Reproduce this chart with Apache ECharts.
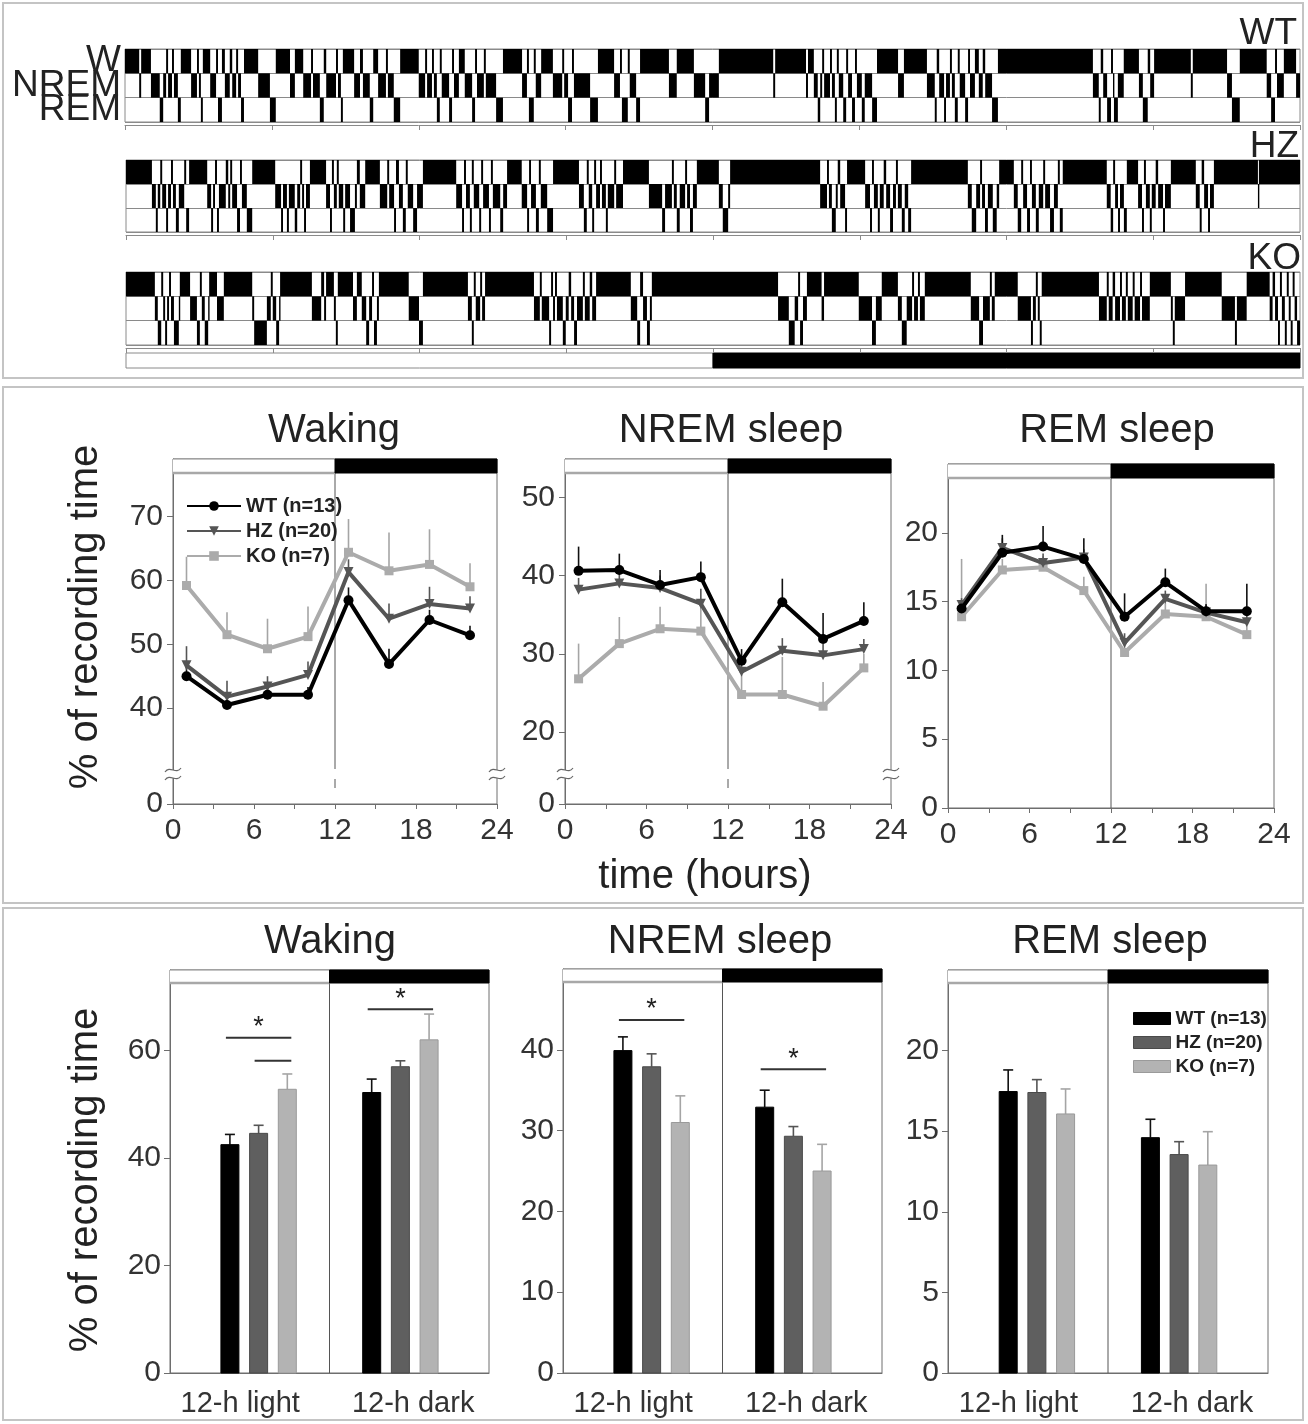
<!DOCTYPE html>
<html><head><meta charset="utf-8">
<script src="https://cdn.jsdelivr.net/npm/echarts@6.0.0/dist/echarts.min.js"></script>
<style>
html,body{margin:0;padding:0;background:#fff;}
.c{position:absolute;left:0;top:0;width:1308px;height:1424px;}
</style></head><body>
<div id="ca" class="c"></div><div id="cb" class="c"></div><div id="cc" class="c"></div>
<script>
// ---------------- DATA ----------------
const genotypes = ['WT (n=13)', 'HZ (n=20)', 'KO (n=7)'];
const stateRows = ['REM', 'NREM', 'W'];
// hypnograms: [hour of state onset, state]  (W wake, N NREM, R REM)
const hypnoWT = [[0,'W'],[0.29,'N'],[0.33,'W'],[0.53,'N'],[0.71,'R'],[0.78,'N'],[0.84,'W'],[0.88,'N'],[0.96,'W'],[1.00,'N'],[1.08,'R'],[1.14,'W'],[1.35,'N'],[1.47,'W'],[1.51,'N'],[1.55,'R'],[1.59,'W'],[1.74,'N'],[1.86,'W'],[1.90,'R'],[1.98,'W'],[2.04,'N'],[2.14,'W'],[2.19,'N'],[2.27,'W'],[2.31,'N'],[2.37,'R'],[2.43,'W'],[2.72,'N'],[2.96,'R'],[3.08,'W'],[3.37,'N'],[3.47,'W'],[3.64,'N'],[3.80,'W'],[3.84,'N'],[3.98,'R'],[4.06,'W'],[4.11,'N'],[4.31,'W'],[4.35,'N'],[4.41,'R'],[4.45,'W'],[4.68,'N'],[4.80,'W'],[4.86,'N'],[5.00,'R'],[5.07,'W'],[5.17,'N'],[5.33,'W'],[5.37,'N'],[5.49,'R'],[5.62,'W'],[6.00,'N'],[6.13,'W'],[6.17,'N'],[6.27,'W'],[6.31,'N'],[6.37,'R'],[6.43,'W'],[6.47,'N'],[6.62,'R'],[6.68,'W'],[6.72,'N'],[6.82,'W'],[6.94,'N'],[7.09,'R'],[7.15,'W'],[7.19,'N'],[7.33,'W'],[7.37,'N'],[7.58,'R'],[7.72,'W'],[8.11,'N'],[8.21,'W'],[8.25,'R'],[8.35,'W'],[8.39,'N'],[8.50,'W'],[8.74,'N'],[8.93,'W'],[8.97,'N'],[9.05,'R'],[9.13,'W'],[9.17,'N'],[9.50,'R'],[9.66,'W'],[9.99,'N'],[10.11,'W'],[10.15,'R'],[10.27,'W'],[10.31,'N'],[10.44,'R'],[10.52,'W'],[11.11,'N'],[11.27,'W'],[11.62,'N'],[11.85,'R'],[11.93,'N'],[12.13,'W'],[13.24,'N'],[13.28,'W'],[13.91,'N'],[13.95,'W'],[14.07,'N'],[14.15,'R'],[14.20,'N'],[14.24,'W'],[14.28,'N'],[14.40,'W'],[14.44,'N'],[14.50,'R'],[14.54,'W'],[14.58,'N'],[14.67,'R'],[14.73,'W'],[14.77,'N'],[14.85,'R'],[14.91,'W'],[14.95,'N'],[15.05,'R'],[15.11,'N'],[15.26,'R'],[15.36,'W'],[15.79,'N'],[15.91,'W'],[16.38,'N'],[16.54,'R'],[16.58,'W'],[16.63,'N'],[16.73,'R'],[16.77,'N'],[16.85,'W'],[16.89,'N'],[16.95,'R'],[17.01,'W'],[17.05,'N'],[17.16,'R'],[17.22,'W'],[17.26,'N'],[17.36,'W'],[17.44,'N'],[17.52,'W'],[17.57,'N'],[17.71,'R'],[17.83,'W'],[19.77,'N'],[19.89,'R'],[19.93,'W'],[19.98,'N'],[20.06,'R'],[20.14,'W'],[20.18,'N'],[20.20,'R'],[20.28,'N'],[20.40,'W'],[20.71,'N'],[20.79,'R'],[20.89,'W'],[20.94,'N'],[21.02,'W'],[21.77,'N'],[21.81,'W'],[22.51,'N'],[22.61,'R'],[22.77,'W'],[23.32,'N'],[23.41,'R'],[23.49,'W'],[23.53,'N'],[23.67,'W'],[23.92,'N']];
const hypnoHZ = [[0,'W'],[0.53,'N'],[0.61,'R'],[0.65,'N'],[0.70,'W'],[0.74,'N'],[0.82,'R'],[0.86,'N'],[0.92,'W'],[0.96,'N'],[1.02,'R'],[1.08,'N'],[1.19,'W'],[1.23,'R'],[1.29,'W'],[1.66,'N'],[1.74,'R'],[1.78,'N'],[1.82,'W'],[1.86,'R'],[1.90,'N'],[2.04,'W'],[2.09,'N'],[2.13,'W'],[2.17,'N'],[2.27,'R'],[2.33,'W'],[2.37,'N'],[2.47,'R'],[2.58,'W'],[3.05,'N'],[3.17,'R'],[3.21,'N'],[3.29,'R'],[3.33,'N'],[3.45,'R'],[3.50,'N'],[3.56,'W'],[3.60,'N'],[3.64,'R'],[3.68,'N'],[3.76,'W'],[4.09,'N'],[4.17,'R'],[4.21,'W'],[4.25,'N'],[4.31,'W'],[4.35,'N'],[4.44,'R'],[4.48,'N'],[4.58,'R'],[4.68,'N'],[4.72,'W'],[4.78,'N'],[4.89,'W'],[5.19,'N'],[5.34,'W'],[5.38,'N'],[5.48,'R'],[5.52,'W'],[5.58,'N'],[5.66,'R'],[5.72,'W'],[5.76,'N'],[5.87,'R'],[5.95,'N'],[6.07,'W'],[6.75,'N'],[6.87,'R'],[6.91,'W'],[6.95,'N'],[7.03,'R'],[7.07,'W'],[7.11,'N'],[7.22,'R'],[7.26,'W'],[7.30,'N'],[7.42,'R'],[7.46,'W'],[7.50,'N'],[7.65,'R'],[7.71,'N'],[7.79,'W'],[8.09,'N'],[8.20,'R'],[8.24,'W'],[8.28,'N'],[8.38,'R'],[8.44,'W'],[8.48,'N'],[8.61,'R'],[8.73,'W'],[9.26,'N'],[9.36,'R'],[9.42,'W'],[9.46,'N'],[9.53,'R'],[9.57,'W'],[9.61,'N'],[9.69,'W'],[9.73,'N'],[9.81,'R'],[9.85,'N'],[9.98,'W'],[10.02,'N'],[10.16,'W'],[10.69,'N'],[10.96,'R'],[11.02,'N'],[11.16,'W'],[11.20,'N'],[11.26,'R'],[11.32,'N'],[11.43,'W'],[11.47,'N'],[11.53,'R'],[11.59,'N'],[11.67,'W'],[12.12,'N'],[12.20,'R'],[12.31,'N'],[12.35,'W'],[14.19,'N'],[14.33,'W'],[14.37,'N'],[14.43,'R'],[14.51,'N'],[14.55,'W'],[14.60,'N'],[14.70,'R'],[14.74,'W'],[15.11,'N'],[15.21,'R'],[15.25,'W'],[15.29,'N'],[15.37,'R'],[15.41,'N'],[15.49,'W'],[15.54,'N'],[15.62,'R'],[15.68,'N'],[15.74,'W'],[15.78,'N'],[15.86,'R'],[15.92,'N'],[15.99,'R'],[16.05,'W'],[17.21,'N'],[17.29,'R'],[17.38,'N'],[17.46,'W'],[17.50,'N'],[17.56,'R'],[17.62,'N'],[17.72,'R'],[17.80,'N'],[17.85,'W'],[18.15,'N'],[18.23,'R'],[18.30,'W'],[18.34,'N'],[18.42,'R'],[18.48,'W'],[18.52,'N'],[18.60,'R'],[18.66,'N'],[18.75,'W'],[18.79,'N'],[18.89,'R'],[18.97,'N'],[19.05,'W'],[19.09,'R'],[19.15,'W'],[20.05,'N'],[20.13,'R'],[20.18,'W'],[20.22,'N'],[20.28,'R'],[20.32,'N'],[20.40,'R'],[20.46,'W'],[20.69,'N'],[20.77,'R'],[20.81,'W'],[20.85,'N'],[20.93,'R'],[20.97,'N'],[21.05,'W'],[21.10,'N'],[21.20,'R'],[21.24,'N'],[21.36,'W'],[21.87,'N'],[21.95,'R'],[21.99,'W'],[22.04,'N'],[22.12,'R'],[22.16,'N'],[22.24,'W'],[23.14,'N'],[23.16,'W']];
const hypnoKO = [[0,'W'],[0.59,'N'],[0.65,'R'],[0.72,'W'],[0.76,'N'],[0.80,'R'],[0.84,'N'],[0.88,'W'],[0.92,'N'],[0.98,'R'],[1.08,'N'],[1.10,'W'],[1.31,'N'],[1.45,'R'],[1.51,'W'],[1.55,'N'],[1.61,'R'],[1.68,'N'],[1.70,'W'],[1.86,'N'],[2.00,'W'],[2.58,'N'],[2.62,'R'],[2.88,'N'],[2.96,'W'],[3.00,'N'],[3.07,'R'],[3.13,'N'],[3.15,'W'],[3.80,'N'],[3.99,'W'],[4.05,'N'],[4.09,'W'],[4.25,'N'],[4.29,'R'],[4.33,'W'],[4.64,'N'],[4.72,'W'],[4.82,'N'],[4.91,'R'],[4.97,'N'],[5.03,'W'],[5.07,'R'],[5.13,'N'],[5.17,'W'],[5.78,'N'],[5.99,'R'],[6.07,'W'],[6.99,'N'],[7.07,'R'],[7.11,'W'],[7.15,'N'],[7.24,'W'],[7.28,'N'],[7.34,'W'],[8.34,'N'],[8.46,'W'],[8.50,'N'],[8.65,'R'],[8.69,'W'],[8.73,'N'],[8.77,'W'],[8.81,'N'],[8.93,'R'],[8.99,'N'],[9.05,'W'],[9.10,'N'],[9.16,'R'],[9.22,'N'],[9.34,'W'],[9.38,'N'],[9.48,'W'],[9.53,'N'],[9.61,'W'],[10.32,'N'],[10.45,'R'],[10.51,'W'],[10.57,'N'],[10.65,'R'],[10.71,'N'],[10.75,'W'],[13.33,'N'],[13.55,'R'],[13.67,'N'],[13.74,'W'],[13.78,'R'],[13.84,'N'],[13.92,'W'],[14.22,'N'],[14.27,'W'],[14.98,'N'],[15.25,'R'],[15.33,'N'],[15.45,'W'],[15.78,'N'],[15.86,'R'],[15.96,'N'],[16.07,'W'],[16.11,'N'],[16.19,'W'],[16.23,'N'],[16.33,'W'],[17.27,'N'],[17.44,'R'],[17.52,'N'],[17.66,'W'],[17.70,'N'],[17.76,'W'],[18.23,'N'],[18.50,'R'],[18.54,'N'],[18.60,'W'],[18.64,'N'],[18.68,'R'],[18.72,'W'],[19.89,'N'],[20.05,'W'],[20.09,'N'],[20.17,'W'],[20.22,'N'],[20.32,'W'],[20.36,'N'],[20.44,'W'],[20.48,'N'],[20.58,'W'],[20.62,'N'],[20.73,'W'],[20.77,'N'],[20.93,'W'],[21.36,'N'],[21.40,'R'],[21.44,'N'],[21.65,'W'],[22.40,'N'],[22.67,'R'],[22.71,'N'],[22.91,'W'],[23.38,'N'],[23.44,'W'],[23.49,'N'],[23.55,'R'],[23.59,'W'],[23.63,'N'],[23.69,'R'],[23.73,'W'],[23.77,'N'],[23.81,'R'],[23.85,'W'],[23.89,'N'],[23.94,'R']];

// 3-h time course (bin centres, hours)
const hourBins = [1, 4, 7, 10, 13, 16, 19, 22];
const wakeWT = [45.0, 40.5, 42.1, 42.1, 56.9, 46.9, 53.8, 51.4];
const wakeHZ = [46.7, 41.8, 43.4, 45.2, 61.3, 54.0, 56.3, 55.6];
const wakeKO = [59.2, 51.5, 49.3, 51.2, 64.4, 61.5, 62.5, 59.0];
const wakeWTsem = [2.0, 1.2, 1.2, 1.2, 2.0, 2.4, 1.6, 1.5];
const wakeHZsem = [3.0, 2.5, 1.6, 2.1, 2.0, 2.4, 2.7, 1.9];
const wakeKOsem = [4.5, 3.5, 4.7, 4.7, 5.2, 6.0, 5.5, 3.7];
const nremWT = [40.6, 40.7, 38.8, 39.8, 29.1, 36.6, 31.9, 34.2];
const nremHZ = [38.2, 39.0, 38.4, 36.4, 27.7, 30.4, 29.8, 30.6];
const nremKO = [26.8, 31.3, 33.2, 32.9, 24.8, 24.8, 23.3, 28.2];
const nremWTsem = [3.1, 2.1, 1.9, 2.0, 1.5, 3.0, 3.3, 2.4];
const nremHZsem = [1.5, 1.2, 1.6, 1.9, 1.2, 1.6, 1.5, 1.3];
const nremKOsem = [4.5, 3.4, 2.8, 3.0, 2.5, 4.8, 3.1, 1.8];
const remWT = [14.5, 18.55, 19.0, 18.1, 13.9, 16.4, 14.3, 14.3];
const remHZ = [14.75, 18.9, 17.8, 18.2, 12.0, 15.2, 14.2, 13.5];
const remKO = [13.9, 17.3, 17.5, 15.8, 11.3, 14.1, 13.9, 12.6];
const remWTsem = [0.5, 1.3, 1.5, 1.5, 1.7, 1.0, 0.5, 2.0];
const remHZsem = [0.5, 0.7, 0.7, 0.6, 0.7, 0.6, 0.6, 0.5];
const remKOsem = [4.2, 0.8, 0.8, 1.0, 0.9, 0.8, 2.4, 0.6];

// 12-h totals  [light, dark]
const periods = ['12-h light', '12-h dark'];
const barWakeMean = [[42.5, 52.2], [44.6, 57.0], [52.8, 62.0]];
const barWakeSem  = [[1.9, 2.5], [1.5, 1.1], [2.85, 4.8]];
const barNremMean = [[39.9, 32.9], [37.9, 29.3], [31.0, 25.0]];
const barNremSem  = [[1.7, 2.1], [1.6, 1.2], [3.3, 3.3]];
const barRemMean  = [[17.46, 14.6], [17.4, 13.55], [16.07, 12.9]];
const barRemSem   = [[1.34, 1.14], [0.8, 0.8], [1.55, 2.07]];
// significance: [period (1 light, 2 dark), from group, to group, height, star]
const sigWake = [[1, 0, 2, 62.4, 1], [1, 1, 2, 58.1, 0], [2, 0, 2, 67.7, 1]];
const sigNrem = [[1, 0, 2, 43.7, 1], [2, 0, 2, 37.6, 1]];
const sigRem  = [];

// tick labels
const lineTicksWake = [0, 40, 50, 60, 70];
const lineTicksNrem = [0, 20, 30, 40, 50];
const lineTicksRem  = [0, 5, 10, 15, 20];
const hourTicks = [0, 6, 12, 18, 24];
const barTicksWake = [0, 20, 40, 60];
const barTicksNrem = [0, 10, 20, 30, 40];
const barTicksRem  = [0, 5, 10, 15, 20];

// ---------------- STYLE ----------------
const FONT = "'Liberation Sans', Arial, Helvetica, sans-serif";
const TXT = '#222';
const AX = '#6e6e6e';
const lineColors = ['#000000', '#555555', '#ababab'];
const barFill = ['#000000', '#5f5f5f', '#b3b3b3'];
const barStroke = ['#000000', '#4a4a4a', '#9a9a9a'];
const errColors = ['#111111', '#555555', '#a5a5a5'];
const BAR_W = 18, BAR_STEP = 28.7;

function toBouts(seq) {
  const out = [];
  const rowOf = { R: 0, N: 1, W: 2 };
  for (let i = 0; i < seq.length; i++) {
    const end = i + 1 < seq.length ? seq[i + 1][0] : 24;
    out.push([seq[i][0], end, rowOf[seq[i][1]]]);
  }
  return out;
}
function renderBout(params, api) {
  const s = api.value(0), e = api.value(1), r = api.value(2);
  const p0 = api.coord([s, r]), p1 = api.coord([e, r]);
  const h = api.size([0, 1])[1];
  return { type: 'rect', shape: { x: p0[0], y: p0[1] - h / 2, width: Math.max(p1[0] - p0[0], 1.4), height: h }, style: { fill: '#000' } };
}

// ---------------- CHART A : hypnograms ----------------
const gridsA = [
  { left: 125, top: 49, width: 1175, height: 73 },
  { left: 126, top: 160, width: 1174, height: 72 },
  { left: 126, top: 272, width: 1174, height: 73 }
];
const chartA = echarts.init(document.getElementById('ca'), null, { renderer: 'canvas' });
chartA.setOption({
  animation: false,
  grid: gridsA.map(g => Object.assign({ show: true, borderColor: '#8a8a8a', borderWidth: 1 }, g)),
  xAxis: gridsA.map((g, i) => ({
    type: 'value', gridIndex: i, min: 0, max: 24, interval: 3, offset: 3,
    axisLine: { show: true, lineStyle: { color: '#8a8a8a' } },
    axisTick: { show: true, length: 5, lineStyle: { color: '#8a8a8a' } },
    axisLabel: { show: false }, splitLine: { show: false }
  })),
  yAxis: gridsA.map((g, i) => ({
    type: 'category', gridIndex: i, data: stateRows,
    axisLine: { show: false }, axisTick: { show: false },
    splitLine: { show: true, interval: 0, lineStyle: { color: '#8a8a8a', width: 1 } },
    axisLabel: { show: i === 0, interval: 0, hideOverlap: false, fontSize: 37, color: TXT, fontFamily: FONT, margin: 4, lineHeight: 24 }
  })),
  series: [hypnoWT, hypnoHZ, hypnoKO].map((seq, i) => ({
    type: 'custom', name: ['WT', 'HZ', 'KO'][i], xAxisIndex: i, yAxisIndex: i,
    renderItem: renderBout, encode: { x: [0, 1], y: 2 }, data: toBouts(seq), silent: true
  })),
  graphic: [
    { type: 'rect', shape: { x: 3, y: 3, width: 1300, height: 375 }, style: { fill: 'none', stroke: '#c4c4c4', lineWidth: 2 } },
    { type: 'rect', shape: { x: 3, y: 387, width: 1300, height: 516 }, style: { fill: 'none', stroke: '#c4c4c4', lineWidth: 2 } },
    { type: 'rect', shape: { x: 3, y: 908, width: 1300, height: 512 }, style: { fill: 'none', stroke: '#c4c4c4', lineWidth: 2 } },
    { type: 'text', x: 1297, y: 34, style: { text: 'WT', fontSize: 37, fill: TXT, fontFamily: FONT, align: 'right', verticalAlign: 'middle' } },
    { type: 'text', x: 1299, y: 147, style: { text: 'HZ', fontSize: 37, fill: TXT, fontFamily: FONT, align: 'right', verticalAlign: 'middle' } },
    { type: 'text', x: 1301, y: 259, style: { text: 'KO', fontSize: 37, fill: TXT, fontFamily: FONT, align: 'right', verticalAlign: 'middle' } },
    { type: 'rect', shape: { x: 126, y: 353, width: 587, height: 15 }, style: { fill: '#fff', stroke: '#8a8a8a', lineWidth: 1 } },
    { type: 'rect', shape: { x: 713, y: 353, width: 587, height: 15 }, style: { fill: '#000', stroke: '#000', lineWidth: 1 } }
  ]
});

// ---------------- CHART B : 3-h time course ----------------
const gridsB = [
  { left: 173, top: 459, width: 324, height: 345 },
  { left: 565, top: 459, width: 326, height: 345 },
  { left: 948, top: 464, width: 326, height: 344 }
];
const yB = [
  { min: 25, max: 79, ticks: lineTicksWake, broken: true },
  { min: 10.8, max: 54.9, ticks: lineTicksNrem, broken: true },
  { min: 0, max: 25, ticks: lineTicksRem, broken: false }
];
const lineSets = [
  [[wakeWT, wakeWTsem], [wakeHZ, wakeHZsem], [wakeKO, wakeKOsem]],
  [[nremWT, nremWTsem], [nremHZ, nremHZsem], [nremKO, nremKOsem]],
  [[remWT, remWTsem], [remHZ, remHZsem], [remKO, remKOsem]]
];
const symbols = ['circle', 'triangle', 'rect'];
const symRot = [0, 180, 0];
const symSize = [10, 10, 9];

function errRender(color) {
  return function (params, api) {
    const x = api.value(0), m = api.value(1), e = api.value(2);
    const a = api.coord([x, m]), b = api.coord([x, m + e]);
    return { type: 'line', shape: { x1: a[0], y1: a[1], x2: b[0], y2: b[1] }, style: { stroke: color, lineWidth: 1.6 } };
  };
}

const seriesB = [];
lineSets.forEach((set, gi) => {
  [2, 1, 0].forEach(g => {
    const vals = set[g][0], sems = set[g][1];
    seriesB.push({
      type: 'custom', name: genotypes[g] + ' sem', xAxisIndex: gi, yAxisIndex: gi, z: 1, silent: true,
      renderItem: errRender(errColors[g]), encode: { x: 0, y: 1 },
      data: hourBins.map((h, i) => [h, vals[i], sems[i]])
    });
  });
  [2, 1, 0].forEach(g => {
    const vals = set[g][0];
    seriesB.push({
      type: 'line', name: genotypes[g], xAxisIndex: gi, yAxisIndex: gi, z: 5 - g,
      data: hourBins.map((h, i) => [h, vals[i]]),
      symbol: symbols[g], symbolRotate: symRot[g], symbolSize: symSize[g], showSymbol: true,
      lineStyle: { width: 4, color: lineColors[g] }, itemStyle: { color: lineColors[g] }
    });
  });
});

const graphicB = [];
const titlesB = ['Waking', 'NREM sleep', 'REM sleep'];
const titleXB = [334, 731, 1117];
titlesB.forEach((t, i) => graphicB.push({ type: 'text', x: titleXB[i], y: 431, style: { text: t, fontSize: 40, fill: TXT, fontFamily: FONT, align: 'center', verticalAlign: 'middle' } }));
graphicB.push({ type: 'text', x: 86, y: 617, rotation: Math.PI / 2, style: { text: '% of recording time', fontSize: 40, fill: TXT, fontFamily: FONT, align: 'center', verticalAlign: 'middle' } });
graphicB.push({ type: 'text', x: 705, y: 877, style: { text: 'time (hours)', fontSize: 40, fill: TXT, fontFamily: FONT, align: 'center', verticalAlign: 'middle' } });

function lightDarkBar(g, arr, barH, broken) {
  const half = g.width / 2, bottom = g.top + g.height, mid = g.left + half;
  arr.push({ type: 'rect', z: 10, shape: { x: g.left, y: g.top, width: half, height: barH }, style: { fill: '#fff', stroke: 'none' } });
  arr.push({ type: 'line', z: 10, shape: { x1: g.left, y1: g.top + barH, x2: mid, y2: g.top + barH }, style: { stroke: '#a8a8a8', lineWidth: 2.5 } });
  arr.push({ type: 'line', z: 10, shape: { x1: g.left, y1: g.top, x2: mid, y2: g.top }, style: { stroke: '#8a8a8a', lineWidth: 1 } });
  arr.push({ type: 'rect', z: 10, shape: { x: mid, y: g.top, width: half, height: barH }, style: { fill: '#000', stroke: '#000', lineWidth: 1 } });
  if (broken) {
    arr.push({ type: 'line', z: 2, shape: { x1: mid, y1: g.top + barH, x2: mid, y2: bottom - 35 }, style: { stroke: '#555', lineWidth: 1 } });
    arr.push({ type: 'line', z: 2, shape: { x1: mid, y1: bottom - 25, x2: mid, y2: bottom - 16 }, style: { stroke: '#555', lineWidth: 1 } });
  } else {
    arr.push({ type: 'line', z: 2, shape: { x1: mid, y1: g.top + barH, x2: mid, y2: bottom }, style: { stroke: '#555', lineWidth: 1 } });
  }
}
function breakMark(x, y, arr) {
  arr.push({ type: 'rect', z: 20, shape: { x: x - 3, y: y - 4, width: 6, height: 8 }, style: { fill: '#fff' } });
  [-4, 4].forEach(dy => arr.push({ type: 'bezierCurve', z: 21, shape: { x1: x - 8, y1: y + dy + 2, cpx1: x - 3, cpy1: y + dy - 5, cpx2: x + 3, cpy2: y + dy + 5, x2: x + 8, y2: y + dy - 2 }, style: { stroke: '#666', lineWidth: 1.2, fill: 'none' } }));
}
gridsB.forEach((g, i) => {
  lightDarkBar(g, graphicB, 14, yB[i].broken);
  if (yB[i].broken) {
    breakMark(g.left, g.top + g.height - 30, graphicB);
    breakMark(g.left + g.width, g.top + g.height - 30, graphicB);
  }
});

const chartB = echarts.init(document.getElementById('cb'), null, { renderer: 'canvas' });
chartB.setOption({
  animation: false,
  grid: gridsB.map(g => Object.assign({ show: true, borderColor: AX, borderWidth: 1 }, g)),
  legend: {
    data: genotypes, orient: 'vertical', left: 181, top: 491, itemWidth: 54, itemHeight: 12, itemGap: 5,
    textStyle: { fontSize: 20, fontWeight: 'bold', color: TXT, fontFamily: FONT, lineHeight: 17 },
    selectedMode: false
  },
  xAxis: gridsB.map((g, i) => ({
    type: 'value', gridIndex: i, min: 0, max: 24, interval: 3,
    axisLine: { show: true, lineStyle: { color: AX } },
    axisTick: { show: true, length: 5, lineStyle: { color: AX } },
    axisLabel: { customValues: hourTicks, fontSize: 30, color: '#333', fontFamily: FONT, margin: 12 },
    splitLine: { show: false }
  })),
  yAxis: gridsB.map((g, i) => {
    const y = yB[i];
    const cv = y.ticks.map(t => (t === 0 ? y.min : t));
    return {
      type: 'value', gridIndex: i, min: y.min, max: y.max,
      axisLine: { show: true, lineStyle: { color: AX } },
      axisTick: { show: true, length: 6, customValues: cv, lineStyle: { color: AX } },
      axisLabel: { customValues: cv, formatter: v => (Math.abs(v - y.min) < 0.01 ? '0' : String(v)), fontSize: 30, color: '#333', fontFamily: FONT, margin: 10 },
      splitLine: { show: false }
    };
  }),
  series: seriesB,
  graphic: graphicB
});

// ---------------- CHART C : 12-h totals ----------------
const gridsC = [
  { left: 170, top: 970, width: 319, height: 403 },
  { left: 563, top: 969, width: 319, height: 404 },
  { left: 948, top: 970, width: 320, height: 403 }
];
const yC = [
  { max: 75, ticks: barTicksWake },
  { max: 50, ticks: barTicksNrem },
  { max: 25, ticks: barTicksRem }
];
const barSets = [[barWakeMean, barWakeSem, sigWake], [barNremMean, barNremSem, sigNrem], [barRemMean, barRemSem, sigRem]];

function barRenderer(g) {
  return function (params, api) {
    const x = api.value(0), m = api.value(1), e = api.value(2);
    const base = api.coord([x, 0]), top = api.coord([x, m]), et = api.coord([x, m + e]);
    const cx = base[0] + (g - 1) * BAR_STEP;
    return {
      type: 'group', children: [
        { type: 'line', shape: { x1: cx, y1: top[1], x2: cx, y2: et[1] }, style: { stroke: errColors[g], lineWidth: 1.6 } },
        { type: 'line', shape: { x1: cx - 5, y1: et[1], x2: cx + 5, y2: et[1] }, style: { stroke: errColors[g], lineWidth: 1.6 } },
        { type: 'rect', shape: { x: cx - BAR_W / 2, y: top[1], width: BAR_W, height: base[1] - top[1] }, style: { fill: barFill[g], stroke: barStroke[g], lineWidth: 1 } }
      ]
    };
  };
}
function sigRender(params, api) {
  const x = api.value(0), a = api.value(1), b = api.value(2), y = api.value(3), star = api.value(4);
  const p = api.coord([x, y]);
  const x1 = p[0] + (a - 1) * BAR_STEP - 4, x2 = p[0] + (b - 1) * BAR_STEP + 4;
  const ch = [{ type: 'line', shape: { x1: x1, y1: p[1], x2: x2, y2: p[1] }, style: { stroke: '#333', lineWidth: 2 } }];
  if (star) ch.push({ type: 'text', style: { text: '*', x: (x1 + x2) / 2, y: p[1] - 10, align: 'center', verticalAlign: 'middle', fontSize: 27, fill: TXT, fontFamily: FONT } });
  return { type: 'group', children: ch };
}

const seriesC = [];
barSets.forEach((set, gi) => {
  [0, 1, 2].forEach(g => {
    seriesC.push({
      type: 'custom', name: genotypes[g], xAxisIndex: gi, yAxisIndex: gi, z: 3,
      renderItem: barRenderer(g), encode: { x: 0, y: 1 },
      itemStyle: { color: barFill[g] },
      data: periods.map((p, k) => [k + 1, set[0][g][k], set[1][g][k]])
    });
  });
  if (set[2].length) seriesC.push({
    type: 'custom', name: 'sig' + gi, xAxisIndex: gi, yAxisIndex: gi, z: 4, silent: true,
    renderItem: sigRender, encode: { x: 0, y: 3 }, data: set[2]
  });
});

const graphicC = [];
const titleXC = [330, 720, 1110];
titlesB.forEach((t, i) => graphicC.push({ type: 'text', x: titleXC[i], y: 942, style: { text: t, fontSize: 40, fill: TXT, fontFamily: FONT, align: 'center', verticalAlign: 'middle' } }));
graphicC.push({ type: 'text', x: 86, y: 1180, rotation: Math.PI / 2, style: { text: '% of recording time', fontSize: 40, fill: TXT, fontFamily: FONT, align: 'center', verticalAlign: 'middle' } });
gridsC.forEach(g => lightDarkBar(g, graphicC, 13, false));

const chartC = echarts.init(document.getElementById('cc'), null, { renderer: 'canvas' });
chartC.setOption({
  animation: false,
  grid: gridsC.map(g => Object.assign({ show: true, borderColor: AX, borderWidth: 1 }, g)),
  legend: {
    data: genotypes.map((n, g) => ({ name: n, icon: 'rect', itemStyle: { color: barFill[g], borderColor: barStroke[g], borderWidth: 1 } })),
    orient: 'vertical', left: 1128, top: 1004, itemWidth: 37, itemHeight: 12, itemGap: 5,
    textStyle: { fontSize: 19, fontWeight: 'bold', color: TXT, fontFamily: FONT, lineHeight: 17 },
    selectedMode: false
  },
  xAxis: gridsC.map((g, i) => ({
    type: 'value', gridIndex: i, min: 0.375, max: 2.625,
    axisLine: { show: true, lineStyle: { color: AX } },
    axisTick: { show: false },
    axisLabel: { customValues: [0.87, 2.09], formatter: v => (v < 1.5 ? periods[0] : periods[1]), fontSize: 29, color: '#333', fontFamily: FONT, margin: 16 },
    splitLine: { show: false }
  })),
  yAxis: gridsC.map((g, i) => ({
    type: 'value', gridIndex: i, min: 0, max: yC[i].max,
    axisLine: { show: true, lineStyle: { color: AX } },
    axisTick: { show: true, length: 6, customValues: yC[i].ticks, lineStyle: { color: AX } },
    axisLabel: { customValues: yC[i].ticks, fontSize: 30, color: '#333', fontFamily: FONT, margin: 9 },
    splitLine: { show: false }
  })),
  series: seriesC,
  graphic: graphicC
});
</script>
</body></html>
